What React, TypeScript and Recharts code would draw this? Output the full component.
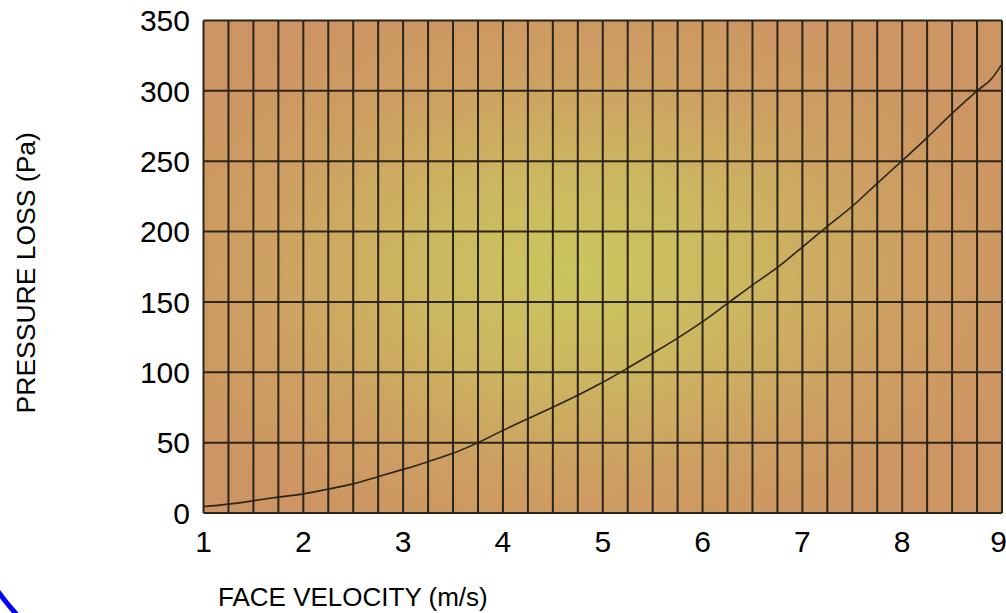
import React from 'react';
import { LineChart, Line, XAxis, YAxis, CartesianGrid, Label, ReferenceLine } from 'recharts';

// face velocity (m/s), read every quarter step off the curve
const velocity = [
  1, 1.25, 1.5, 1.75, 2, 2.25, 2.5, 2.75, 3, 3.25, 3.5, 3.75, 4, 4.25, 4.5, 4.75,
  5, 5.25, 5.5, 5.75, 6, 6.25, 6.5, 6.75, 7, 7.25, 7.5, 7.75, 8, 8.25, 8.5, 8.75, 8.9, 9,
];
// pressure loss (Pa)
const pressureLoss = [
  4.5, 6.3, 8.7, 11.3, 13.6, 17, 20.7, 25.8, 31, 36.5, 42.4, 50, 58.7, 67, 75.2, 83.7,
  92.9, 103, 113.5, 124.3, 136, 149, 162, 174.5, 189, 203.7, 218, 234.3, 250.4, 266.8, 284, 300, 309, 319,
];

const xTicks = [1, 2, 3, 4, 5, 6, 7, 8, 9];
const xGridTicks = [
  1, 1.25, 1.5, 1.75, 2, 2.25, 2.5, 2.75, 3, 3.25, 3.5, 3.75, 4, 4.25, 4.5, 4.75,
  5, 5.25, 5.5, 5.75, 6, 6.25, 6.5, 6.75, 7, 7.25, 7.5, 7.75, 8, 8.25, 8.5, 8.75, 9,
];
const yTicks = [0, 50, 100, 150, 200, 250, 300, 350];

const data = velocity.map((v, i) => ({ v, p: pressureLoss[i] }));

const FONT = '"Liberation Sans", Arial, sans-serif';
const GRID = '#2b2419';

const XTitle = (props: any) => {
  const vb = props.viewBox || {};
  return (
    <text x={vb.x + 14.5} y={vb.y + 93} fontFamily={FONT} fontSize={26} fill="#000">
      FACE VELOCITY (m/s)
    </text>
  );
};

const YTitle = (props: any) => {
  const vb = props.viewBox || {};
  const cx = vb.x + 26;
  const cy = vb.y + vb.height / 2 + 6;
  return (
    <g>
      <text
        x={cx}
        y={cy}
        transform={`rotate(-90, ${cx}, ${cy})`}
        textAnchor="middle"
        dominantBaseline="central"
        fontFamily={FONT}
        fontSize={26.5}
        fill="#000"
      >
        PRESSURE LOSS (Pa)
      </text>
      {/* stray blue arc in the corner of the original image */}
      <path d="M -3 590 Q 7 604 18 616" stroke="#0000ff" strokeWidth={5} fill="none" />
    </g>
  );
};

export default function App() {
  return (
    <div style={{ position: 'absolute', left: 0, top: 0, width: 1006, height: 613, background: '#fff' }}>
      <LineChart
        width={1006}
        height={613}
        data={data}
        margin={{ top: 20.5, right: 4, left: 0, bottom: 0 }}
      >
        <defs>
          <radialGradient id="plotBg" cx="0.47" cy="0.51" r="0.58">
            <stop offset="0" stopColor="#cbc65e" />
            <stop offset="0.35" stopColor="#ccb760" />
            <stop offset="0.7" stopColor="#cd9f62" />
            <stop offset="1" stopColor="#cd9563" />
          </radialGradient>
        </defs>
        <CartesianGrid
          vertical={false}
          fill="url(#plotBg)"
          fillOpacity={1}
          stroke={GRID}
          strokeWidth={2}
        />
        <XAxis
          type="number"
          dataKey="v"
          domain={[1, 9]}
          ticks={xTicks}
          height={100}
          tickSize={0}
          tickMargin={17.5}
          tickLine={false}
          axisLine={false}
          tick={{ fill: '#000', fontSize: 30, fontFamily: FONT }}
        >
          <Label content={XTitle} />
        </XAxis>
        <YAxis
          type="number"
          domain={[0, 350]}
          ticks={yTicks}
          width={203.5}
          tickSize={0}
          tickMargin={13.5}
          tickLine={false}
          axisLine={false}
          tick={{ fill: '#000', fontSize: 30, fontFamily: FONT }}
        >
          <Label content={YTitle} />
        </YAxis>
        {xGridTicks.map((t) => (
          <ReferenceLine key={t} x={t} stroke={GRID} strokeWidth={2} ifOverflow="extendDomain" />
        ))}
        <Line
          type="monotone"
          dataKey="p"
          stroke="#2a2416"
          strokeWidth={1.6}
          dot={false}
          isAnimationActive={false}
        />
      </LineChart>
    </div>
  );
}
